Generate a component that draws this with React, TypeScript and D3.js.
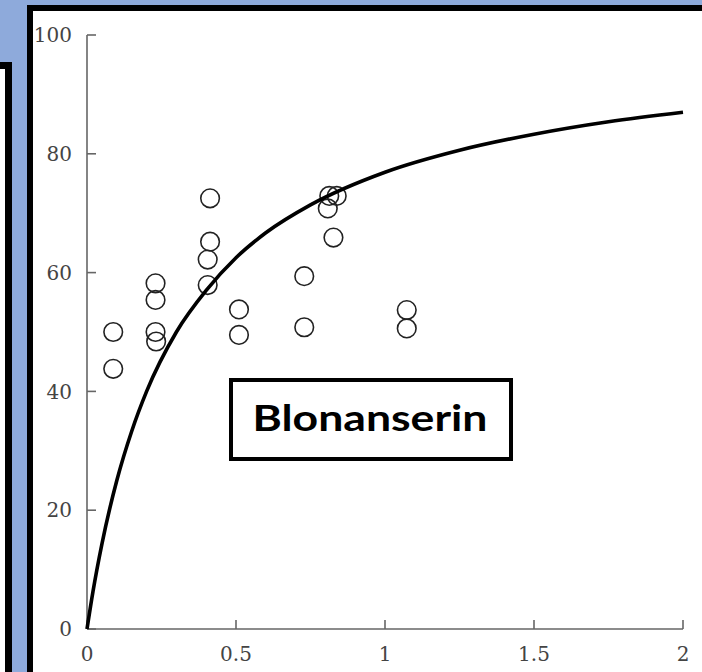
import React, { useEffect, useRef } from 'react';
import * as d3 from 'd3';

// observed points (dose vs occupancy)
const pointX = [0.088, 0.088, 0.23, 0.23, 0.23, 0.232, 0.413, 0.413, 0.405, 0.405, 0.51, 0.51, 0.729, 0.729, 0.813, 0.838, 0.808, 0.827, 1.073, 1.073];
const pointY = [50.0, 43.8, 58.2, 55.4, 50.0, 48.4, 72.5, 65.2, 62.2, 57.9, 53.8, 49.5, 59.4, 50.8, 72.9, 72.9, 70.8, 65.9, 53.7, 50.6];

// fitted curve
const curveX = [0, 0.02, 0.05, 0.1, 0.15, 0.2, 0.3, 0.4, 0.5, 0.6, 0.75, 1, 1.25, 1.5, 1.75, 2];
const curveY = [0, 6.3, 14.3, 25, 33.3, 40, 50, 57, 62.5, 66.7, 71.4, 76.9, 80.6, 83.3, 85.4, 87];

const xTicks = [0, 0.5, 1, 1.5, 2];
const yTicks = [0, 20, 40, 60, 80, 100];
const labelText = 'Blonanserin';

const W = 702;
const H = 672;

const App: React.FC = () => {
  const svgRef = useRef<SVGSVGElement>(null);

  useEffect(() => {
    if (!svgRef.current) return;
    const svg = d3.select(svgRef.current);
    svg.selectAll('*').remove();

    // backdrop + slide panels
    svg.append('rect').attr('width', W).attr('height', H).attr('fill', '#8eaadb');
    svg.append('rect')
      .attr('x', -20).attr('y', 65.5).attr('width', 28.5).attr('height', 700)
      .attr('fill', '#fff').attr('stroke', '#000').attr('stroke-width', 7);
    svg.append('rect')
      .attr('x', 30).attr('y', 8).attr('width', 700).attr('height', 700)
      .attr('fill', '#fff').attr('stroke', '#000').attr('stroke-width', 6);

    const x = d3.scaleLinear().domain([0, 2]).range([87, 683]);
    const y = d3.scaleLinear().domain([0, 100]).range([629, 35]);

    const axisColor = '#666';
    const g = svg.append('g');

    // y axis
    g.append('line')
      .attr('x1', x(0)).attr('x2', x(0)).attr('y1', y(0)).attr('y2', y(100))
      .attr('stroke', axisColor).attr('stroke-width', 1.6);
    g.selectAll('.ytick')
      .data(yTicks)
      .enter()
      .append('line')
      .attr('x1', x(0)).attr('x2', x(0) + 9)
      .attr('y1', d => y(d)).attr('y2', d => y(d))
      .attr('stroke', axisColor).attr('stroke-width', 1.6);
    g.selectAll('.ylabel')
      .data(yTicks)
      .enter()
      .append('text')
      .attr('x', 72)
      .attr('y', d => y(d))
      .attr('dy', '0.36em')
      .attr('text-anchor', 'end')
      .attr('fill', '#444')
      .style('font-family', '"DejaVu Serif", serif')
      .style('font-size', '20px')
      .text(d => d);

    // x axis
    g.append('line')
      .attr('x1', x(0)).attr('x2', x(2)).attr('y1', y(0)).attr('y2', y(0))
      .attr('stroke', axisColor).attr('stroke-width', 1.6);
    g.selectAll('.xtick')
      .data(xTicks)
      .enter()
      .append('line')
      .attr('x1', d => x(d)).attr('x2', d => x(d))
      .attr('y1', y(0)).attr('y2', y(0) - 9)
      .attr('stroke', axisColor).attr('stroke-width', 1.6);
    g.selectAll('.xlabel')
      .data(xTicks)
      .enter()
      .append('text')
      .attr('x', d => x(d))
      .attr('y', 654)
      .attr('dy', '0.36em')
      .attr('text-anchor', 'middle')
      .attr('fill', '#444')
      .style('font-family', '"DejaVu Serif", serif')
      .style('font-size', '20px')
      .text(d => d);

    // points
    g.selectAll('.pt')
      .data(pointX.map((v, i) => [v, pointY[i]]))
      .enter()
      .append('circle')
      .attr('cx', d => x(d[0]))
      .attr('cy', d => y(d[1]))
      .attr('r', 9.3)
      .attr('fill', 'none')
      .attr('stroke', '#222')
      .attr('stroke-width', 1.6);

    // fitted curve
    const line = d3.line<number>()
      .x(d => x(d))
      .y((_, i) => y(curveY[i]))
      .curve(d3.curveMonotoneX);
    g.append('path')
      .attr('d', line(curveX))
      .attr('fill', 'none')
      .attr('stroke', '#000')
      .attr('stroke-width', 3.6);

    // drug name box
    svg.append('rect')
      .attr('x', 231).attr('y', 380).attr('width', 280).attr('height', 79)
      .attr('fill', '#fff').attr('stroke', '#000').attr('stroke-width', 4);
    svg.append('text')
      .attr('x', 370)
      .attr('y', 431)
      .attr('text-anchor', 'middle')
      .attr('fill', '#000')
      .style('font-family', 'Lato, sans-serif')
      .style('font-weight', 'bold')
      .style('font-size', '36px')
      .attr('textLength', 235)
      .attr('lengthAdjust', 'spacingAndGlyphs')
      .text(labelText);
  }, []);

  return (
    <svg
      ref={svgRef}
      width={W}
      height={H}
      style={{ position: 'absolute', left: 0, top: 0 }}
    />
  );
};

export default App;
